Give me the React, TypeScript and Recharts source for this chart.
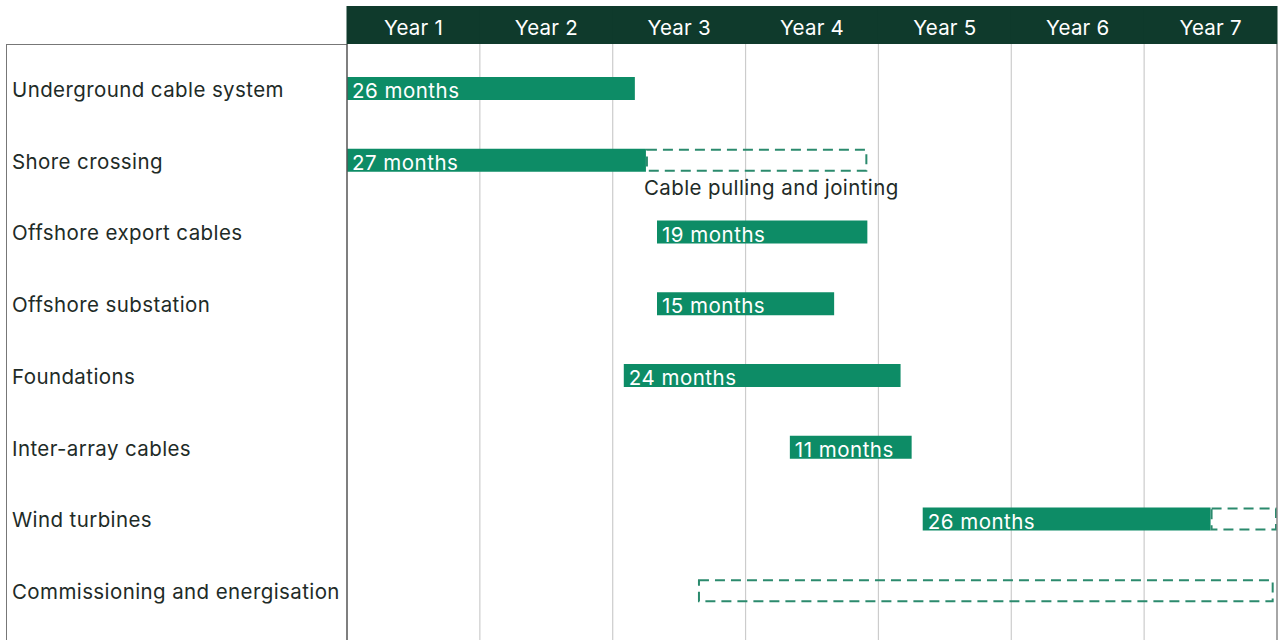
import React from 'react';
import { BarChart, Bar, XAxis, YAxis, ReferenceLine, LabelList } from 'recharts';

const categories = [
  'Underground cable system',
  'Shore crossing',
  'Offshore export cables',
  'Offshore substation',
  'Foundations',
  'Inter-array cables',
  'Wind turbines',
  'Commissioning and energisation',
];
const startMonths = [0, 0, 28, 28, 25, 40, 52, 31.7];
const solidMonths = [26, 27, 19, 16, 25, 11, 26, 0];
const dashedMonths = [0, 20, 0, 0, 0, 0, 6, 52];
const durationLabels = ['26 months', '27 months', '19 months', '15 months', '24 months', '11 months', '26 months', ''];
const notes = ['', 'Cable pulling and jointing', '', '', '', '', '', ''];
const yearLabels = ['Year 1', 'Year 2', 'Year 3', 'Year 4', 'Year 5', 'Year 6', 'Year 7'];
const yearCenters = [6, 18, 30, 42, 54, 66, 78];
const yearBoundaries = [12, 24, 36, 48, 60, 72];
const totalMonths = 84;

const data = categories.map((task, i) => ({
  task,
  start: startMonths[i],
  solid: solidMonths[i],
  dashed: dashedMonths[i],
  label: durationLabels[i],
  note: notes[i],
}));

const FONT = 'Inter, "Noto Sans", sans-serif';
const GREEN = '#0d8c66';
const DARK = '#0f3a2c';
const DASH = '#2b8a6d';
const TEXT = '#1e2b27';

const CHART_W = 1285;
const CHART_H = 640;
const MARGIN = { top: 6, right: 8, bottom: 0, left: 6 };
const Y_W = 341;
const YEAR_W = (CHART_W - MARGIN.left - MARGIN.right - Y_W) / yearLabels.length;

const HeaderTick = (props: any) => {
  const { x, payload, index } = props;
  return (
    <g>
      <rect x={x - YEAR_W / 2 - 0.5} y={6} width={YEAR_W + 1} height={38} fill={DARK} />
      <text x={x} y={35} textAnchor="middle" fill="#ffffff" fontSize={20.5} fontFamily={FONT} letterSpacing={0.2}>
        {yearLabels[index] ?? payload.value}
      </text>
    </g>
  );
};

const CatTick = (props: any) => {
  const { y, payload } = props;
  return (
    <text x={12} y={y + 8} textAnchor="start" fill={TEXT} fontSize={20.5} fontFamily={FONT} letterSpacing={0.4}>
      {payload.value}
    </text>
  );
};

const DashedBox = (props: any) => {
  const { x, y, width, height } = props;
  if (!width || width <= 0) return null;
  return (
    <rect
      x={x + 1}
      y={y + 1}
      width={width - 2}
      height={height - 2}
      fill="none"
      stroke={DASH}
      strokeWidth={2}
      strokeDasharray="10 6"
    />
  );
};

const DurationLabel = (props: any) => {
  const { x, y, height, value } = props;
  if (!value) return null;
  return (
    <text x={x + 5} y={y + height - 2} fill="#ffffff" fontSize={20.5} fontFamily={FONT} letterSpacing={0.5}>
      {value}
    </text>
  );
};

const NoteLabel = (props: any) => {
  const { x, y, height, value } = props;
  if (!value) return null;
  return (
    <text x={x - 2} y={y + height + 23} fill={TEXT} fontSize={20.5} fontFamily={FONT} letterSpacing={0.4}>
      {value}
    </text>
  );
};

export default function App() {
  return (
    <div style={{ position: 'fixed', left: 0, top: 0, width: CHART_W, height: CHART_H, background: '#ffffff' }}>
      <div
        style={{
          position: 'absolute',
          left: 6,
          top: 44,
          width: Y_W,
          height: CHART_H - 44,
          borderLeft: '1.5px solid #777',
          borderTop: '1.5px solid #777',
          boxSizing: 'border-box',
        }}
      />
      <BarChart
        width={CHART_W}
        height={CHART_H}
        data={data}
        layout="vertical"
        margin={MARGIN}
        barSize={23}
        style={{ position: 'absolute', left: 0, top: 0 }}
      >
        <XAxis
          xAxisId="head"
          type="number"
          orientation="top"
          domain={[0, totalMonths]}
          ticks={yearCenters}
          interval={0}
          height={38}
          axisLine={false}
          tickLine={false}
          tick={<HeaderTick />}
        />
        <YAxis
          type="category"
          dataKey="task"
          width={Y_W}
          padding={{ top: 9, bottom: 13 }}
          axisLine={{ stroke: '#555', strokeWidth: 1.5 }}
          tickLine={false}
          tick={<CatTick />}
          interval={0}
        />
        {yearBoundaries.map((m) => (
          <ReferenceLine key={m} xAxisId="head" x={m} stroke="#cccccc" strokeWidth={1.2} zIndex={-100} />
        ))}
        <ReferenceLine xAxisId="head" x={totalMonths} stroke="#888888" strokeWidth={1.5} />
        <Bar xAxisId="head" dataKey="start" stackId="a" fill="transparent" isAnimationActive={false} />
        <Bar xAxisId="head" dataKey="solid" stackId="a" fill={GREEN} isAnimationActive={false}>
          <LabelList dataKey="label" content={<DurationLabel />} />
        </Bar>
        <Bar xAxisId="head" dataKey="dashed" stackId="a" shape={<DashedBox />} isAnimationActive={false}>
          <LabelList dataKey="note" content={<NoteLabel />} />
        </Bar>
      </BarChart>
    </div>
  );
}
